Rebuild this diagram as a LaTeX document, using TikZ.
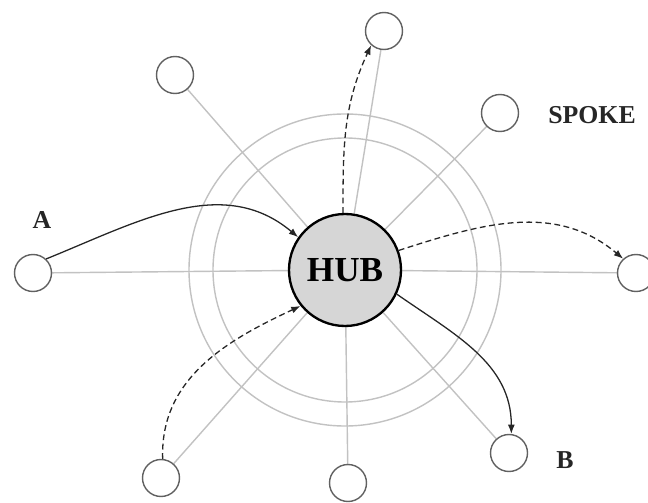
\documentclass[tikz,border=0pt]{standalone}
\usepackage{fontspec}
\setmainfont{Liberation Serif}
\usepackage{tikz}
\usetikzlibrary{arrows.meta, backgrounds}

\definecolor{rimgray}{gray}{0.76}
\definecolor{nodegray}{gray}{0.38}
\definecolor{hubfill}{gray}{0.84}

\begin{document}
\begin{tikzpicture}[
    x=0.03cm, y=0.03cm,
    hub/.style={circle, draw=black, line width=2pt, fill=hubfill, minimum size=112*0.03cm, inner sep=0pt, font=\fontsize{30}{31}\selectfont\bfseries},
    stop/.style={circle, draw=nodegray, line width=1.2pt, minimum size=37*0.03cm, inner sep=0pt},
    spoke/.style={draw=rimgray, line width=1.2pt},
    lbl/.style={font=\fontsize{22}{23}\selectfont\bfseries, text=black!85},
    arr/.style={-{Latex[length=2.8mm, width=2.1mm]}, line width=1.1pt, draw=black!85},
    dasharr/.style={arr, dash pattern=on 5pt off 3pt}
]
\useasboundingbox (0,0) rectangle (648,502);

% hub and the spoke cities
\node[hub] (hub) at (345,232) {HUB};
\node[stop] (ul) at (175,427) {};
\node[stop] (top) at (384,471) {};
\node[stop] (ur) at (500,389) {};
\node[stop] (left) at (33,229) {};
\node[stop] (right) at (636,229) {};
\node[stop] (ll) at (161,24) {};
\node[stop] (bot) at (348,19) {};
\node[stop] (nb) at (509,49) {};

\node[lbl] (la) at (42,282) {A};
\node[lbl] (lb) at (565,42) {B};
\node[lbl] (lspoke) at (592,387) {SPOKE};

% wheel rim and spokes
\begin{scope}[on background layer]
\draw[spoke] (hub.center) circle[radius=156];
\draw[spoke] (hub.center) circle[radius=132];
\foreach \s in {ul,top,ur,left,right,ll,bot,nb}
  \draw[spoke] (hub) -- (\s);
\end{scope}

% traffic through the hub
\draw[arr] (left.47) to[out=22, in=140] (hub.145);
\draw[dasharr] (hub.92) to[out=90, in=245] (top.228);
\draw[dasharr] (hub.20) to[out=18, in=140] (right.132);
\draw[dasharr] (ll.85) to[out=92, in=205] (hub.219);
\draw[arr] (hub.335) to[out=-35, in=90] (nb.83);
\end{tikzpicture}
\end{document}
